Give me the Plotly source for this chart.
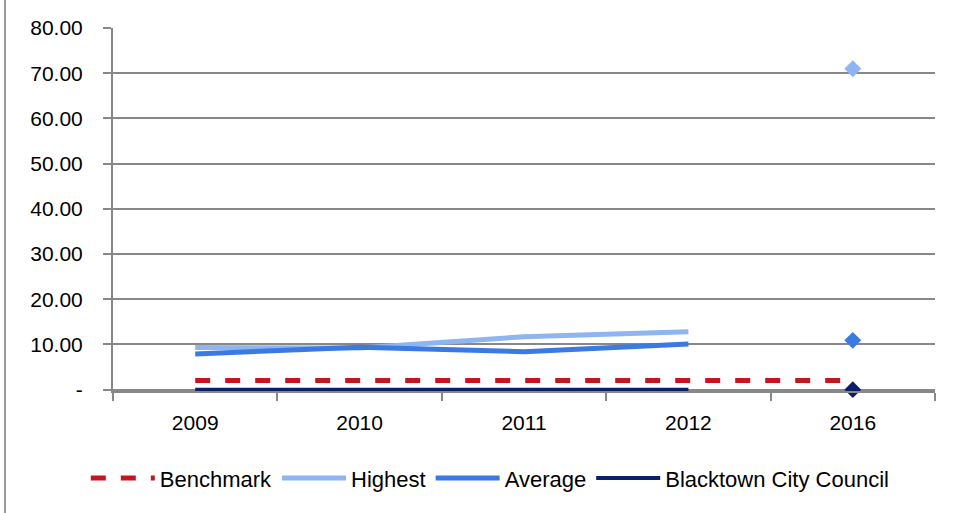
import plotly.graph_objects as go

years = ["2009", "2010", "2011", "2012", "2016"]
benchmark = [2.0, 2.0, 2.0, 2.0, 2.0]
highest = [9.3, 9.2, 11.7, 12.8, 71.0]
average = [7.9, 9.4, 8.4, 10.1, 10.9]
blacktown = [0.0, 0.0, 0.0, 0.0, 0.0]

y_ticks = [0, 10, 20, 30, 40, 50, 60, 70, 80]
y_labels = ["-", "10.00", "20.00", "30.00", "40.00", "50.00", "60.00", "70.00", "80.00"]

C_BENCH = "#C4161F"
C_HIGH = "#8FB4F2"
C_AVG = "#3B7AE3"
C_BCC = "#0C1F6B"

FONT = "Liberation Sans, Arial, sans-serif"

fig = go.Figure()

# Benchmark runs through every year, including 2016
fig.add_trace(go.Scatter(
    x=years, y=benchmark, name="Benchmark", mode="lines",
    line=dict(color=C_BENCH, width=5, dash="dash"),
))

# The other series: connected line for 2009-2012, a lone diamond for 2016
for name, vals, color, w in [
    ("Highest", highest, C_HIGH, 5),
    ("Average", average, C_AVG, 5),
    ("Blacktown City Council", blacktown, C_BCC, 4),
]:
    fig.add_trace(go.Scatter(
        x=years[:4], y=vals[:4], name=name, mode="lines",
        line=dict(color=color, width=w), legendgroup=name,
    ))
    fig.add_trace(go.Scatter(
        x=years[4:], y=vals[4:], name=name, mode="markers",
        marker=dict(color=color, size=13, symbol="diamond"),
        showlegend=False, legendgroup=name, cliponaxis=False,
    ))

fig.update_layout(
    width=955, height=513,
    margin=dict(l=113, r=20, t=28, b=122),
    paper_bgcolor="white", plot_bgcolor="white",
    font=dict(family=FONT, size=21, color="#000000"),
    showlegend=True,
    legend=dict(
        orientation="h", x=0.459, xanchor="center", y=-0.24, yanchor="middle",
        font=dict(family=FONT, size=22, color="#000000"),
        itemwidth=64, tracegroupgap=0,
    ),
    xaxis=dict(
        type="category", categoryorder="array", categoryarray=years,
        showgrid=False, showline=True, linecolor="#888888", linewidth=2,
        ticks="outside", tickson="boundaries", ticklen=8, tickwidth=2,
        tickcolor="#888888", tickfont=dict(size=21),
        range=[-0.5, 4.5], ticklabelstandoff=12,
    ),
    yaxis=dict(
        range=[-0.3, 80], tickvals=y_ticks, ticktext=y_labels,
        showgrid=True, gridcolor="#888888", gridwidth=2,
        showline=True, linecolor="#888888", linewidth=2,
        ticks="outside", ticklen=8, tickwidth=2, tickcolor="#888888",
        tickfont=dict(size=21), ticklabelstandoff=16,
        zeroline=False,
    ),
    shapes=[dict(
        type="line", xref="paper", yref="paper",
        x0=-0.1314, x1=-0.1314, y0=-0.34, y1=1.08,
        line=dict(color="#999999", width=2),
    )],
)

fig.write_html("out.html")
